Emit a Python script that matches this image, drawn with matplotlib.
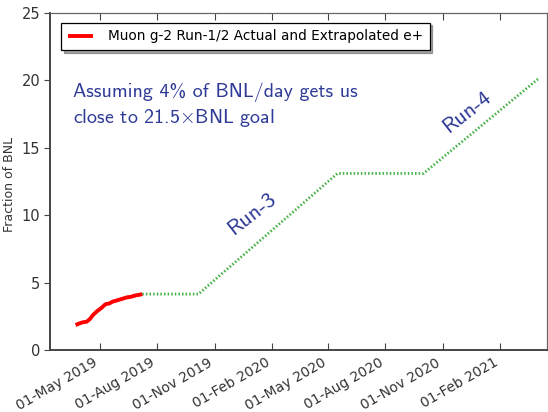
import datetime as dt
import matplotlib
matplotlib.use("Agg")
import matplotlib.pyplot as plt
import matplotlib.dates as mdates

plt.rcParams["mathtext.fontset"] = "cm"
plt.rcParams["font.family"] = ["DejaVu Sans"]

# Run-1/2 accumulated positrons (fraction of BNL dataset)
actual_dates = ["2019-03-23", "2019-03-28", "2019-04-03", "2019-04-10", "2019-04-15",
                "2019-04-20", "2019-04-27", "2019-05-03", "2019-05-10", "2019-05-16",
                "2019-05-22", "2019-05-30", "2019-06-06", "2019-06-13", "2019-06-20",
                "2019-06-27", "2019-07-04", "2019-07-08"]
actual_values = [1.85, 1.95, 2.05, 2.1, 2.3, 2.6, 2.9, 3.1, 3.4, 3.45,
                 3.6, 3.7, 3.8, 3.9, 3.95, 4.05, 4.1, 4.15]

# Extrapolation at ~4% of BNL per day through Run-3 and Run-4
proj_dates = ["2019-07-08", "2019-10-06", "2020-05-16", "2020-10-01", "2021-04-05"]
proj_values = [4.15, 4.15, 13.1, 13.1, 20.2]

legend_label = "Muon g-2 Run-1/2 Actual and Extrapolated e+"
y_label = "Fraction of BNL"
note_lines = ["Assuming 4% of BNL/day gets us",
              r"close to 21.5$\times$BNL goal"]
x_limits = ["2019-02-10", "2021-04-17"]
y_limits = [0, 25]


def to_dates(seq):
    return [dt.datetime.strptime(s, "%Y-%m-%d") for s in seq]


fig = plt.figure(figsize=(5.48, 4.12), dpi=100)
ax = fig.add_axes([50 / 548, 62 / 412, 497 / 548, 337 / 412])

ax.plot(to_dates(actual_dates), actual_values, color="#ff0000", lw=2.8,
        solid_capstyle="butt", label=legend_label, zorder=3)
ax.plot(to_dates(proj_dates), proj_values, color="#45b245", lw=2.0,
        linestyle=(0, (0.55, 0.75)), zorder=2)

ax.set_xlim(to_dates(x_limits))
ax.set_ylim(y_limits)
ax.set_yticks([0, 5, 10, 15, 20, 25])

ax.xaxis.set_major_locator(mdates.MonthLocator(bymonth=[2, 5, 8, 11]))
ax.xaxis.set_major_formatter(mdates.DateFormatter("%d-%b %Y"))
for lab in ax.get_xticklabels():
    lab.set_rotation(30)
    lab.set_ha("right")

ax.tick_params(axis="x", direction="in", top=True, length=5, width=0.8,
               color="#444444", labelsize=10, labelcolor="#333333", pad=4)
ax.tick_params(axis="y", direction="out", length=4, width=0.8,
               color="#444444", labelsize=10.5, labelcolor="#333333", pad=3)
ax.tick_params(axis="y", which="both", right=True)

for side in ("left", "bottom"):
    ax.spines[side].set_color("#444444")
    ax.spines[side].set_linewidth(1.4)
for side in ("top", "right"):
    ax.spines[side].set_color("#666666")
    ax.spines[side].set_linewidth(0.9)

ax.set_ylabel(y_label, fontsize=9, color="#333333")
ax.yaxis.set_label_coords(-0.068, 0.49)

leg = ax.legend(loc="upper left", fontsize=9.8, fancybox=False, shadow=True,
                handlelength=1.9, handletextpad=1.05, borderpad=0.5,
                bbox_to_anchor=(0.008, 0.992), framealpha=1)
leg.get_frame().set_edgecolor("black")
leg.get_frame().set_linewidth(0.9)

note_color = "#2e3a96"
sans_tex = "cmss10"
ax.text(0.046, 0.795, "\n".join(note_lines), transform=ax.transAxes,
        fontsize=14.4, family=[sans_tex, "DejaVu Sans"], color=note_color,
        va="top", ha="left", linespacing=1.32)

ax.text(dt.datetime(2019, 12, 31), 10.1, "Run-3", fontsize=16,
        family=[sans_tex, "DejaVu Sans"], color=note_color, rotation=38,
        ha="center", va="center")
ax.text(dt.datetime(2020, 12, 11), 17.7, "Run-4", fontsize=16,
        family=[sans_tex, "DejaVu Sans"], color=note_color, rotation=38,
        ha="center", va="center")

fig.savefig("out.png", dpi=100)
